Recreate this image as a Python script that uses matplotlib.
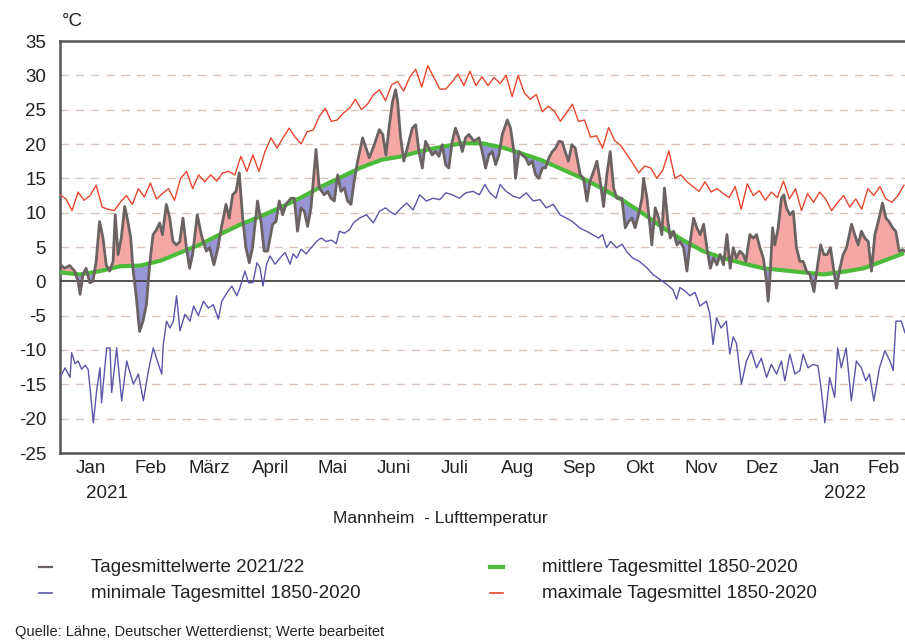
import numpy as np
import matplotlib
matplotlib.use("Agg")
import matplotlib.pyplot as plt
from matplotlib import font_manager

avail = {f.name for f in font_manager.fontManager.ttflist}
fam = [f for f in ["Liberation Sans Narrow", "Liberation Sans", "DejaVu Sans"] if f in avail]
plt.rcParams["font.family"] = fam

# ---------------- data ----------------
month_labels = ["Jan", "Feb", "März", "April", "Mai", "Juni", "Juli", "Aug",
                "Sep", "Okt", "Nov", "Dez", "Jan", "Feb"]
month_lengths = [31, 28, 31, 30, 31, 30, 31, 31, 30, 31, 30, 31, 31, 28]
year_labels = ["2021", "2022"]
y_ticks = [35, 30, 25, 20, 15, 10, 5, 0, -5, -10, -15, -20, -25]

# maximum daily mean 1850-2020 (every 3rd day from 1 Jan 2021)
max_vals = [12.6, 12.0, 10.3, 13.0, 11.8, 12.5, 14.0, 10.8, 10.5, 10.3,
            11.5, 12.5, 11.2, 13.5, 12.3, 14.3, 12.0, 12.8, 13.5, 11.8,
            15.0, 16.0, 13.5, 15.5, 14.5, 15.5, 14.6, 15.8, 16.0, 15.5,
            18.2, 16.0, 18.4, 16.0, 18.9, 20.9, 19.4, 20.9, 22.3, 21.0,
            20.0, 21.8, 22.0, 24.0, 25.2, 23.3, 23.5, 24.5, 25.2, 26.5,
            25.0, 25.8, 27.2, 27.9, 26.3, 28.6, 29.1, 27.7, 29.7, 30.9,
            28.3, 31.4, 29.7, 28.0, 28.0, 29.0, 30.2, 28.5, 30.6, 28.5,
            29.8, 28.5, 29.7, 28.8, 30.0, 26.9, 30.0, 27.5, 26.5, 27.2,
            24.7, 25.5, 24.8, 23.3, 24.5, 25.8, 23.3, 23.5, 21.0, 21.2,
            19.4, 22.4, 20.5, 19.8, 18.5, 17.2, 15.8, 16.8, 16.5, 15.0,
            16.2, 19.0, 15.0, 15.5, 14.5, 13.8, 13.1, 14.5, 13.0, 13.5,
            12.8, 12.2, 13.8, 10.5, 14.2, 12.5, 13.2, 11.8, 13.0, 12.2,
            14.6, 12.0, 13.5, 10.3, 12.8, 11.5, 13.0, 12.0, 10.3, 11.5,
            12.5, 10.8, 12.0, 10.5, 13.5, 12.5, 13.8, 12.0, 11.5, 12.5,
            14.0]

# mean daily mean 1850-2020 (every 10th day)
mean_vals = [1.3, 1.0, 1.5, 2.2, 2.3, 3.0, 4.2, 5.4, 6.9, 8.3,
             9.5, 10.8, 12.2, 13.8, 15.2, 16.6, 17.7, 18.2, 19.0, 19.6,
             20.1, 20.1, 19.5, 18.6, 17.6, 16.3, 15.0, 13.5, 11.8, 9.9,
             7.8, 6.0, 4.4, 3.4, 2.6, 1.9, 1.6, 1.3, 1.0, 1.4,
             1.9, 3.0, 4.1]

# minimum daily mean 1850-2020
min_days = [0, 2.5, 5, 5.8, 7.5, 9, 10.8, 12.5, 14, 15, 16.6, 18.2, 19.9, 20.7, 23.2, 24.9,
            25.7, 28.2, 30.7, 33.2, 36.5, 39, 41.5, 44, 46.4, 48, 50.6, 51.4, 53, 54.7, 56.4,
            58, 59.7, 62.2, 64.7, 66.5, 68.8, 71.4, 73.8, 76.3, 78.8, 80.5, 83, 85.5, 88,
            89.6, 92, 93.8, 96, 98, 99.5, 101, 102.8, 104.5, 107, 109.5, 112, 114.5, 116,
            117.8, 120, 122.5, 125, 128, 130, 132.5, 135, 137.5, 139, 141.5, 144, 146, 149,
            152.5, 155.9, 159, 162, 164, 166.7, 169.5, 172.5, 175.7, 179, 182.3, 185.6, 189,
            192, 195.3, 198.7, 202, 205.6, 208.7, 211.4, 213.9, 217, 219, 222, 225.5, 228.8,
            232, 235.5, 238.8, 242, 245.5, 248.8, 252, 255, 258.5, 262, 265, 268, 270, 272,
            274, 277, 279.7, 282.3, 285, 288.3, 292, 295, 298.5, 301.8, 305, 306.8, 308.5,
            311, 313.5, 316, 318.4, 321.7, 323.4, 325, 326.7, 329, 331.6, 333.3, 335, 336.6,
            339.1, 341.6, 344, 346.6, 349, 351.6, 354, 356.6, 359, 360.7, 363.2, 365.7, 368.2,
            369.8, 372.2, 374.7, 377.2, 378.9, 380.6, 383, 385.5, 387, 388.8, 391.2, 393.8,
            396.3, 398.8, 401, 402.8, 405, 407.8, 410.5, 413, 414.6, 416, 418.7, 420.5]
min_vals = [-14, -12.6, -14, -10.4, -12, -11.6, -12.8, -12.2, -12.8, -15.7, -20.6, -16, -12.6, -17.7, -9.7, -9.7,
            -16.2, -9.7, -17.4, -11.6, -15, -13.5, -17.4, -13, -9.7, -11.2, -13.5, -9.2, -5.8, -6.8, -5.8,
            -2.1, -7.2, -4.8, -5.8, -3.6, -5.0, -2.9, -3.9, -3.4, -5.5, -2.9, -1.7, -0.7, -2.1,
            -0.9, 1.5, -0.2, -0.2, 2.7, 2.0, -0.7, 2.5, 3.7, 2.5, 3.4, 4.2, 2.5, 4.0,
            3.4, 4.7, 4.0, 4.9, 5.9, 6.3, 5.8, 6.0, 5.5, 7.3, 7.0, 7.5, 8.5, 9.2,
            9.7, 8.5, 10.2, 10.7, 10.2, 9.7, 10.6, 11.4, 10.4, 12.6, 11.7, 12.1, 11.9,
            12.9, 12.6, 12.1, 12.9, 13.1, 12.6, 14.1, 12.9, 12.1, 14.1, 13.1, 12.4, 12.1,
            12.9, 11.7, 11.9, 10.7, 11.2, 9.7, 9.2, 8.7, 7.8, 7.3, 6.8, 6.3, 6.8, 4.9,
            5.8, 4.9, 5.4, 4.2, 3.4, 2.9, 2.0, 1.0, 0.3, -0.4, -1.2, -2.6, -0.9,
            -1.4, -2.1, -1.6, -3.6, -2.9, -4.8, -9.2, -5.3, -6.8, -5.8, -10.6, -8.1, -9.0,
            -15, -11.6, -10.1, -12.6, -11.2, -14, -12.1, -13.5, -11.6, -14.5, -10.6, -13.5, -13,
            -10.6, -12.6, -12.1, -12.3, -16, -20.6, -14, -16.9, -9.7, -12.6, -9.7, -17.4,
            -11.6, -12.6, -14.5, -13.5, -17.4, -12.6, -10.1, -11.6, -13, -5.8, -5.8, -7.5]

# daily means 2021/22
act_days = [0.3, 2.3, 4.8, 7.3, 9.0, 10.0, 11.4, 13.0, 14.8, 16.4, 18.0, 19.7, 21.4, 23.0, 24.7,
            26.4, 27.5, 28.9, 30.5, 32.2, 33.8, 35.2, 36.3, 38.0, 39.6, 41.3, 43.0, 44.6, 46.3,
            48.0, 49.6, 51.0, 52.9, 54.6, 56.2, 58.0, 59.6, 61.2, 62.9, 64.5, 66.0, 68.3, 70.3,
            72.8, 74.5, 76.6, 78.6, 80.3, 82.6, 84.2, 85.9, 87.6, 89.2, 90.9, 92.5, 94.2, 95.8,
            98.3, 100.0, 101.6, 103.3, 105.8, 107.5, 109.1, 110.8, 112.4, 114.9, 116.6, 118.2,
            119.9, 121.6, 123.2, 124.9, 127.4, 129.0, 131.5, 133.2, 134.8, 136.5, 138.2, 139.8,
            141.5, 143.1, 144.8, 146.4, 148.1, 150.6, 152.3, 153.9, 156.4, 158.9, 160.6, 162.2,
            163.9, 165.5, 167.0, 168.0, 169.5, 171.1, 172.8, 175.3, 177.0, 178.6, 180.3, 181.9,
            183.6, 185.2, 186.9, 188.6, 190.2, 191.9, 193.5, 195.2, 196.8, 198.5, 200.2, 201.8,
            203.5, 206.0, 208.5, 210.1, 211.8, 213.4, 215.1, 216.8, 218.4, 220.1, 222.6, 224.2,
            225.9, 226.7, 228.4, 230.0, 231.7, 233.3, 235.0, 236.7, 238.3, 240.0, 241.6, 243.3,
            245.0, 246.6, 248.3, 249.9, 251.4, 253.0, 254.7, 256.4, 258.9, 260.5, 262.2, 263.8,
            265.5, 267.2, 268.8, 270.5, 272.1, 273.8, 275.5, 277.1, 279.6, 281.3, 282.9, 284.6,
            286.2, 287.9, 289.6, 290.4, 292.1, 293.7, 294.5, 296.2, 297.9, 299.5, 300.8, 302.5,
            303.7, 305.3, 307.0, 308.6, 310.3, 312.0, 313.6, 315.3, 316.9, 318.6, 320.3, 321.9,
            323.6, 325.2, 326.9, 328.5, 330.2, 331.9, 333.5, 335.0, 336.6, 338.3, 340.0, 341.3,
            343.3, 345.0, 346.6, 348.3, 350.0, 351.6, 352.4, 353.2, 354.6, 355.7, 357.4, 359.0,
            360.2, 361.5, 363.2, 364.9, 366.5, 368.2, 369.8, 371.5, 373.2, 375.2, 376.8, 378.5,
            380.1, 381.8, 383.4, 385.1, 386.4, 388.1, 389.7, 391.4, 393.9, 395.5, 397.2, 398.8,
            400.5, 402.2, 403.8, 405.5, 407.2, 409.3, 411.0, 412.6, 414.3, 415.9, 417.6, 419.3,
            420.5]
act_vals = [2.4, 1.9, 2.3, 1.5, 0.0, -1.9, 1.0, 1.9, -0.2, 0.0, 2.9, 8.7, 6.3, 2.4, 1.5,
            2.9, 9.7, 3.9, 6.3, 10.9, 8.7, 6.3, 1.9, -2.4, -7.3, -5.8, -3.4, 2.4, 6.8,
            7.5, 8.5, 6.8, 11.2, 9.2, 5.8, 5.3, 5.8, 9.2, 4.9, 1.9, 3.9, 9.7, 6.8,
            4.4, 4.9, 2.4, 4.9, 7.8, 11.2, 9.2, 12.6, 13.1, 15.8, 9.2, 4.9, 2.7, 4.9,
            11.7, 8.7, 4.4, 4.4, 8.3, 8.7, 11.7, 9.7, 11.2, 12.1, 12.1, 7.3,
            10.7, 10.2, 8.0, 10.7, 19.2, 13.6, 12.6, 13.1, 12.1, 11.7, 15.5, 13.1,
            13.6, 11.7, 11.2, 14.6, 17.5, 20.9, 19.4, 18.0, 19.9, 22.1, 21.4, 18.4,
            22.8, 26.2, 27.9, 26.2, 20.9, 17.5, 19.4, 22.3, 22.8, 18.9, 16.5, 20.4,
            19.4, 18.4, 18.9, 18.2, 19.9, 17.0, 16.5, 20.4, 22.3, 20.9, 18.9, 20.9,
            21.4, 20.4, 20.9, 18.9, 16.5, 18.4, 18.9, 17.0, 18.4, 21.4, 23.5, 22.3,
            18.9, 15.0, 18.9, 18.4, 18.0, 17.0, 17.5, 15.5, 15.0, 16.5, 16.5, 18.0,
            18.9, 19.4, 20.4, 20.3, 18.9, 17.5, 19.9, 19.4, 15.5, 15.0, 11.7, 14.6,
            16.0, 17.5, 14.6, 10.9, 15.5, 18.9, 13.6, 12.1, 12.1, 7.8, 8.7, 9.2,
            7.8, 9.7, 12.1, 15.0, 12.1, 7.8, 5.3, 10.7, 9.2, 6.8, 13.6, 8.7,
            6.3, 7.3, 5.3, 5.8, 4.9, 1.5, 5.8, 9.2, 7.8, 6.8, 8.3, 4.9,
            1.9, 3.4, 2.4, 3.9, 2.4, 6.8, 1.9, 4.9, 3.4, 4.4, 3.9, 2.9,
            6.8, 6.3, 6.8, 4.9, 3.4, 0.0, -2.9, 0.0, 7.8, 5.3, 7.8, 12.1,
            12.6, 10.7, 9.7, 10.2, 4.9, 2.9, 2.9, 1.5, 1.0, -1.5, 1.9, 5.3,
            3.9, 3.9, 4.9, 1.5, -1.0, 1.9, 3.9, 4.9, 8.3, 6.8, 5.3, 7.3,
            6.3, 5.8, 1.5, 6.8, 8.7, 11.4, 9.2, 8.7, 7.8, 7.3, 4.4, 4.6,
            4.4]

# ---------------- figure ----------------
W, H = 905, 643
fig = plt.figure(figsize=(W / 100, H / 100), dpi=100)
ax = fig.add_axes([60 / W, 1 - 453 / H, 1 - 60 / W, (453 - 41) / H])

max_days = np.arange(len(max_vals)) * 3
mean_days = np.arange(len(mean_vals)) * 10

# shaded deviation areas
grid = np.linspace(0, 420.5, 3000)
a_f = np.interp(grid, act_days, act_vals)
m_f = np.interp(grid, mean_days, mean_vals)
ax.fill_between(grid, a_f, m_f, where=a_f >= m_f, interpolate=True,
                color="#F4A7A5", lw=0, zorder=2)
ax.fill_between(grid, a_f, m_f, where=a_f < m_f, interpolate=True,
                color="#9896D4", lw=0, zorder=2)

for yv in [30, 25, 20, 15, 10, 5, -5, -10, -15, -20]:
    ax.axhline(yv, color="#D9C4BC", lw=1.0, dashes=(6, 5), zorder=1)
ax.axhline(0, color="#444444", lw=1.3, zorder=3)

ax.plot(max_days, max_vals, color="#E8452E", lw=1.0, zorder=4)
ax.plot(min_days, min_vals, color="#5A55A8", lw=1.0, zorder=4)
ax.plot(mean_days, mean_vals, color="#4DBB3A", lw=3.0, zorder=5, solid_capstyle="butt")
ax.plot(act_days, act_vals, color="#6B6262", lw=2.0, zorder=6)

ax.set_xlim(0, 420.5)
ax.set_ylim(-25, 35)
ax.set_yticks(y_ticks)
ax.set_yticklabels([str(v) for v in y_ticks], fontsize=13.5, color="#222222")
ax.tick_params(axis="y", length=0, pad=10)

starts = np.cumsum([0] + month_lengths[:-1])
centers = starts + np.array(month_lengths) / 2.0
ax.set_xticks(centers)
ax.set_xticklabels(month_labels, fontsize=13.5, color="#222222")
ax.tick_params(axis="x", length=0, pad=5)

for side in ["left", "top", "bottom"]:
    ax.spines[side].set_color("#555555")
    ax.spines[side].set_linewidth(1.8)
ax.spines["right"].set_visible(False)

# year labels (below the month labels)
fig.text(107 / W, 1 - 493 / H, year_labels[0], fontsize=13.5, ha="center", va="center",
         color="#222222")
fig.text(845 / W, 1 - 493 / H, year_labels[1], fontsize=13.5, ha="center", va="center",
         color="#222222")

fig.text(62 / W, 1 - 22 / H, "°C", fontsize=13.5, ha="left", va="center", color="#222222")
fig.text(440 / W, 1 - 518 / H, "Mannheim  - Lufttemperatur", fontsize=12.5,
         ha="center", va="center", color="#222222")

# legend
def leg(x0, y, color, lw, label):
    fig.add_artist(plt.Line2D([x0 / W, (x0 + 13) / W], [1 - y / H, 1 - y / H],
                              color=color, lw=lw))
    fig.text((x0 + 52) / W, 1 - y / H, label, fontsize=13.5, ha="left", va="center",
             color="#222222")

leg(39, 567, "#6B6262", 1.6, "Tagesmittelwerte 2021/22")
leg(39, 593, "#5A55A8", 1.2, "minimale Tagesmittel 1850-2020")
leg(490, 567, "#4DBB3A", 3.0, "mittlere Tagesmittel 1850-2020")
leg(490, 593, "#E8452E", 1.2, "maximale Tagesmittel 1850-2020")

fig.text(15 / W, 1 - 632 / H, "Quelle: Lähne, Deutscher Wetterdienst; Werte bearbeitet",
         fontsize=10.5, ha="left", va="center", color="#222222")

fig.savefig("out.png", dpi=100)
